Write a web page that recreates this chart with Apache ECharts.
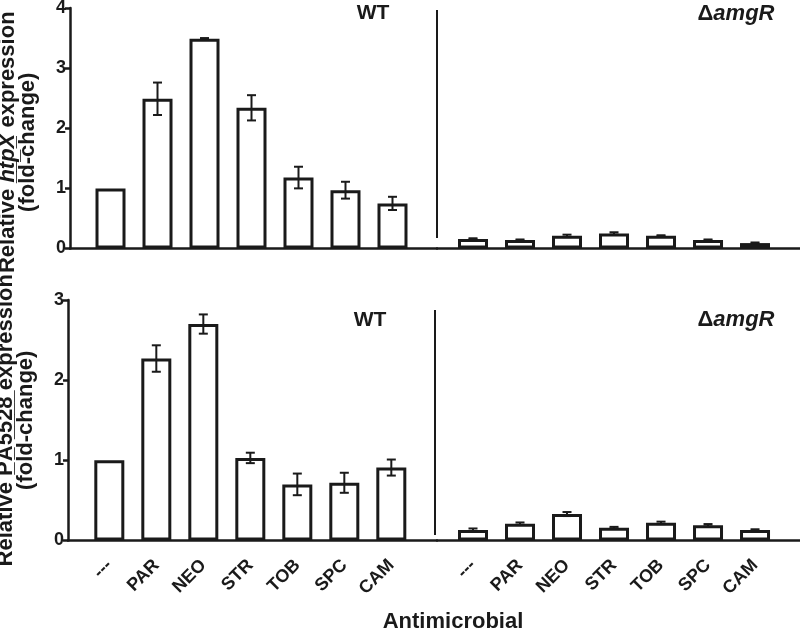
<!DOCTYPE html>
<html>
<head>
<meta charset="utf-8">
<script src="https://cdn.jsdelivr.net/npm/echarts@6/dist/echarts.min.js"></script>
<style>html,body{margin:0;padding:0;background:#fff}#c{width:800px;height:633px}</style>
</head>
<body>
<div id="c"></div>
<script>
// ---- data ----
var categories = ['---', 'PAR', 'NEO', 'STR', 'TOB', 'SPC', 'CAM'];
var htpxWT = [1.00, 2.49, 3.49, 2.34, 1.18, 0.97, 0.75];
var htpxWTErr = [0, 0.27, 0.01, 0.21, 0.18, 0.14, 0.11];
var htpxAmgR = [0.16, 0.14, 0.21, 0.25, 0.21, 0.14, 0.09];
var htpxAmgRErr = [0.01, 0.01, 0.02, 0.02, 0.01, 0.01, 0.01];
var paWT = [1.00, 2.27, 2.70, 1.03, 0.70, 0.72, 0.91];
var paWTErr = [0, 0.165, 0.12, 0.065, 0.135, 0.125, 0.10];
var paAmgR = [0.13, 0.21, 0.33, 0.16, 0.22, 0.19, 0.13];
var paAmgRErr = [0.02, 0.015, 0.025, 0.01, 0.015, 0.015, 0.01];
var topTicks = ['0', '1', '2', '3', '4'];
var bottomTicks = ['0', '1', '2', '3'];

// ---- helpers ----
var INK = '#1a1a1a';
var FONT = '"Liberation Sans", Arial, sans-serif';
function ul(s) { return s.split('').map(function (c) { return c + '\u0332'; }).join(''); }
function barData(vals) { return vals.map(function (v, i) { return [i, v]; }); }
function errData(vals, errs) {
  var out = [];
  vals.forEach(function (v, i) { if (errs[i] > 0) out.push([i, v - errs[i], v + errs[i]]); });
  return out;
}
function renderErr(params, api) {
  var x = api.value(0);
  var lo = api.coord([x, api.value(1)]);
  var hi = api.coord([x, api.value(2)]);
  var hw = 4.5;
  var st = { stroke: INK, lineWidth: 2 };
  return {
    type: 'group',
    children: [
      { type: 'line', shape: { x1: lo[0], y1: lo[1], x2: hi[0], y2: hi[1] }, style: st },
      { type: 'line', shape: { x1: lo[0] - hw, y1: lo[1], x2: lo[0] + hw, y2: lo[1] }, style: st },
      { type: 'line', shape: { x1: hi[0] - hw, y1: hi[1], x2: hi[0] + hw, y2: hi[1] }, style: st }
    ]
  };
}
function xAxis(gi, min, max, showLabels) {
  return {
    type: 'value', gridIndex: gi, min: min, max: max,
    axisLine: { show: true, onZero: false, lineStyle: { color: INK, width: 2.5 } },
    axisTick: { show: false }, splitLine: { show: false },
    axisLabel: showLabels ? {
      show: true, customValues: [0, 1, 2, 3, 4, 5, 6],
      formatter: function (v) { return categories[Math.round(v)]; },
      rotate: 45, fontSize: 18, fontWeight: 'bold', color: INK, fontFamily: FONT, margin: 22
    } : { show: false }
  };
}
function yAxisLeft(gi, max, ticks, name, pad) {
  return {
    type: 'value', gridIndex: gi, min: 0, max: max, interval: 1,
    axisLine: { show: true, onZero: false, lineStyle: { color: INK, width: 2.5 } },
    axisTick: { show: true, length: 5, lineStyle: { color: INK, width: 2.5 } },
    splitLine: { show: false },
    axisLabel: { formatter: function (v) { return ticks[v]; }, fontSize: 18, fontWeight: 'bold', color: INK, fontFamily: FONT, margin: 4 },
    name: name, nameLocation: 'middle', nameRotate: 90, nameGap: 32,
    nameTextStyle: { fontSize: 22, fontWeight: 'bold', color: INK, fontFamily: FONT, lineHeight: 20, padding: pad,
      rich: { it: { fontSize: 22, fontWeight: 'bold', fontStyle: 'italic', color: INK, fontFamily: FONT, lineHeight: 20 } } }
  };
}
function yAxisHidden(gi, max) {
  return { type: 'value', gridIndex: gi, min: 0, max: max, show: false, splitLine: { show: false } };
}
function barSeries(xi, vals) {
  return { type: 'bar', xAxisIndex: xi, yAxisIndex: xi, data: barData(vals), barWidth: 30,
    itemStyle: { color: '#fff', borderColor: INK, borderWidth: 3 }, silent: true, z: 2 };
}
function errSeries(xi, vals, errs) {
  return { type: 'custom', xAxisIndex: xi, yAxisIndex: xi, data: errData(vals, errs), renderItem: renderErr, silent: true, z: 3 };
}

var option = {
  animation: false,
  backgroundColor: '#fff',
  grid: [
    { left: 70, top: 8, width: 367, height: 240.5, outerBoundsMode: 'none', containLabel: false },
    { left: 437, top: 8, width: 363, height: 240.5, outerBoundsMode: 'none', containLabel: false },
    { left: 68, top: 300, width: 369, height: 240.5, outerBoundsMode: 'none', containLabel: false },
    { left: 437, top: 300, width: 363, height: 240.5, outerBoundsMode: 'none', containLabel: false }
  ],
  xAxis: [
    xAxis(0, -0.862, 6.947, false),
    xAxis(1, -0.766, 6.957, false),
    xAxis(2, -0.879, 6.972, true),
    xAxis(3, -0.766, 6.957, true)
  ],
  yAxis: [
    yAxisLeft(0, 4, topTicks, 'Relative {it|' + ul('htpX') + '} expression\n(fold-change)', [0, 28, 0, 0]),
    yAxisHidden(1, 4),
    yAxisLeft(2, 3, bottomTicks, 'Relative ' + ul('PA5528') + ' expression\n(fold-change)', 0),
    yAxisHidden(3, 3)
  ],
  series: [
    barSeries(0, htpxWT), errSeries(0, htpxWT, htpxWTErr),
    barSeries(1, htpxAmgR), errSeries(1, htpxAmgR, htpxAmgRErr),
    barSeries(2, paWT), errSeries(2, paWT, paWTErr),
    barSeries(3, paAmgR), errSeries(3, paAmgR, paAmgRErr)
  ],
  graphic: [
    { type: 'line', shape: { x1: 437, y1: 10, x2: 437, y2: 238 }, style: { stroke: INK, lineWidth: 2 } },
    { type: 'line', shape: { x1: 435, y1: 310, x2: 435, y2: 535 }, style: { stroke: INK, lineWidth: 2 } },
    { type: 'text', x: 373, y: 13, style: { text: 'WT', font: 'bold 21px ' + FONT, fill: INK, textAlign: 'center', textVerticalAlign: 'middle' } },
    { type: 'text', x: 370, y: 320, style: { text: 'WT', font: 'bold 21px ' + FONT, fill: INK, textAlign: 'center', textVerticalAlign: 'middle' } },
    { type: 'text', x: 736, y: 14, style: { text: '{d|\u0394}{i|amgR}', textAlign: 'center', textVerticalAlign: 'middle',
      rich: { d: { font: 'bold 22px ' + FONT, fill: INK }, i: { font: 'italic bold 22px ' + FONT, fill: INK } } } },
    { type: 'text', x: 736, y: 320, style: { text: '{d|\u0394}{i|amgR}', textAlign: 'center', textVerticalAlign: 'middle',
      rich: { d: { font: 'bold 22px ' + FONT, fill: INK }, i: { font: 'italic bold 22px ' + FONT, fill: INK } } } },
    { type: 'text', x: 453, y: 622, style: { text: 'Antimicrobial', font: 'bold 22px ' + FONT, fill: INK, textAlign: 'center', textVerticalAlign: 'middle' } }
  ]
};
var chart = echarts.init(document.getElementById('c'), null, { renderer: 'canvas' });
chart.setOption(option);
</script>
</body>
</html>
